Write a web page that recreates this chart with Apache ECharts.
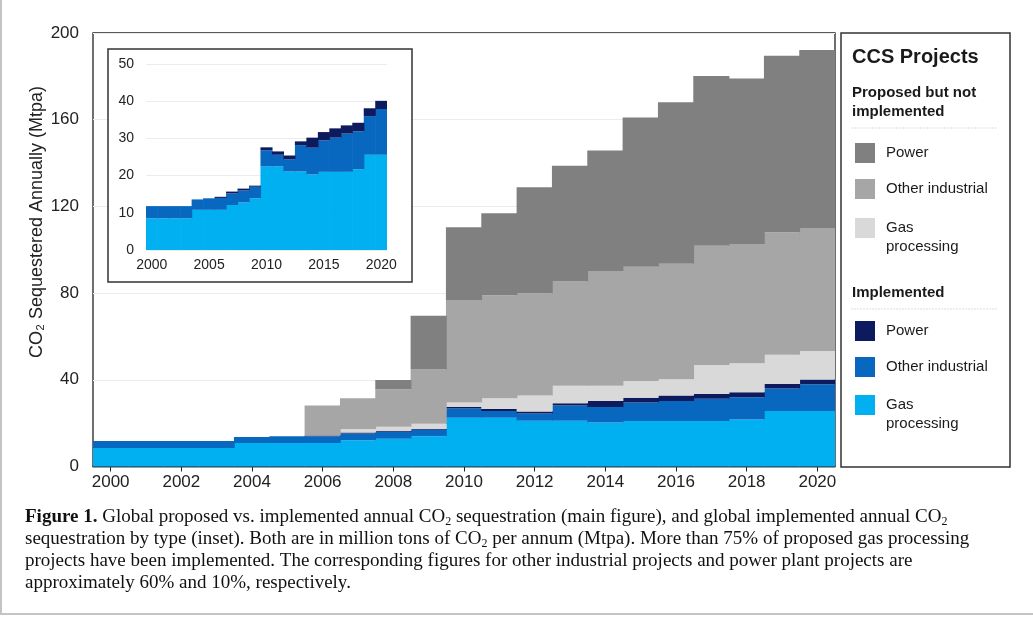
<!DOCTYPE html>
<html><head><meta charset="utf-8">
<script src="https://cdn.jsdelivr.net/npm/echarts@6/dist/echarts.min.js"></script>
<style>html,body{margin:0;padding:0;background:#fff;}#c{width:1033px;height:618px;}</style>
</head><body><div id="c"></div>
<script>
// ---- data (Mtpa, per year) ----
const years = ['2000','2001','2002','2003','2004','2005','2006','2007','2008','2009','2010',
               '2011','2012','2013','2014','2015','2016','2017','2018','2019','2020'];
const implGas   = [8.5,8.5,8.5,8.5,10.8,10.8,10.8,12.1,12.8,13.9,22.5,22.5,21.1,21.1,20.3,21.0,21.0,21.0,21.7,25.6,25.6];
const implOther = [3.3,3.3,3.3,3.3,2.8,3.1,3.2,3.1,3.2,3.1,4.3,3.1,3.3,7.1,7.2,8.5,9.2,10.3,10.2,10.4,12.3];
const implPower = [0,0,0,0,0,0,0.3,0.5,0.5,0.3,0.8,0.9,1.0,1.0,2.7,2.2,2.5,2.2,2.3,2.1,2.2];
const propGas   = [0,0,0,0,0,0,0,1.6,1.8,2.4,1.9,5.0,7.4,8.1,7.1,7.7,7.6,13.3,13.4,13.4,13.2];
const propOther = [0,0,0,0,0,0,13.9,14.2,17.3,25.1,47.3,47.5,47.1,48.0,52.9,52.8,53.2,55.1,55.1,56.6,56.7];
const propPower = [0,0,0,0,0,0,0,0,4.3,24.7,33.6,37.8,48.9,53.5,55.6,68.8,74.5,78.3,76.3,81.4,82.2];

const mainAxis  = {min: 0, max: 200, interval: 40};
const insetAxis = {min: 0, max: 50, interval: 10};

const C = {
  implGas: '#00B0F0', implOther: '#0868C0', implPower: '#0E1A5E',
  propGas: '#D9D9D9', propOther: '#A6A6A6', propPower: '#808080'
};

const sans = 'Liberation Sans, Arial, Helvetica, sans-serif';
const serif = 'Liberation Serif, Times New Roman, serif';

const mainGrid = {left: 93, top: 33, width: 742, height: 433.5};
const insetGrid = {left: 146, top: 64, width: 241, height: 186};

function bar(name, data, color, idx, z, w) {
  return {
    name: name, type: 'bar', stack: 'tot' + idx, data: data,
    xAxisIndex: idx, yAxisIndex: idx, z: z,
    barWidth: w, barGap: '-100%',
    itemStyle: {color: color, borderWidth: 0},
    emphasis: {disabled: true}, silent: true, animation: false
  };
}
const wMain = mainGrid.width / years.length + 0.8;
const wInset = insetGrid.width / years.length + 0.6;

const chart = echarts.init(document.getElementById('c'), null, {renderer: 'canvas'});

// legend built as graphic
const legendItems = [];
function swatch(y, color) {
  legendItems.push({type: 'rect', shape: {x: 855, y: y - 10, width: 20, height: 20},
    style: {fill: color}, z: 30});
}
function ltext(y, txt, bold, size) {
  legendItems.push({type: 'text', x: bold ? 852 : 886, y: y, z: 30,
    style: {text: txt, fill: '#1a1a1a', font: (bold ? 'bold ' : '') + size + 'px ' + sans,
      textVerticalAlign: 'middle', lineHeight: 19}});
}

ltext(57, 'CCS Projects', true, 20);
ltext(93, 'Proposed but not', true, 15);
ltext(112, 'implemented', true, 15);
legendItems.push({type: 'line', shape: {x1: 851, y1: 128, x2: 998, y2: 128},
  style: {stroke: '#dddddd', lineWidth: 1, lineDash: [2, 1]}, z: 30});
swatch(153, C.propPower); ltext(153, 'Power', false, 15);
swatch(189, C.propOther); ltext(189, 'Other industrial', false, 15);
swatch(228, C.propGas);   ltext(237, 'Gas\nprocessing', false, 15);
ltext(293, 'Implemented', true, 15);
legendItems.push({type: 'line', shape: {x1: 851, y1: 309, x2: 998, y2: 309},
  style: {stroke: '#dddddd', lineWidth: 1, lineDash: [2, 1]}, z: 30});
swatch(331, C.implPower); ltext(331, 'Power', false, 15);
swatch(367, C.implOther); ltext(367, 'Other industrial', false, 15);
swatch(405, C.implGas);   ltext(414, 'Gas\nprocessing', false, 15);

const capRich = {
  b: {font: 'bold 19px ' + serif, fill: '#111'},
  s: {fontSize: 12, fontFamily: serif, padding: [10, 0, 0, 0]}
};
function capLine(y, txt) {
  return {type: 'text', x: 25, y: y, z: 30,
    style: {text: txt, font: '19px ' + serif, fill: '#111', rich: capRich, textVerticalAlign: 'middle'}};
}

const option = {
  animation: false,
  grid: [
    Object.assign({show: true, borderColor: '#222', borderWidth: 1.3, backgroundColor: '#fff'}, mainGrid),
    Object.assign({z: 15}, insetGrid)
  ],
  xAxis: [
    {type: 'category', data: years, gridIndex: 0, boundaryGap: true,
     axisLine: {show: true, lineStyle: {color: '#222', width: 1.3}},
     axisTick: {show: true, interval: 1, alignWithLabel: true, length: 5, lineStyle: {color: '#222'}},
     axisLabel: {interval: 1, margin: 7, fontSize: 17, fontFamily: sans, color: '#222'},
     splitLine: {show: false}},
    {type: 'category', data: years, gridIndex: 1, boundaryGap: true, z: 15,
     axisLine: {show: false}, axisTick: {show: false},
     axisLabel: {interval: 4, margin: 8, fontSize: 14, fontFamily: sans, color: '#222'},
     splitLine: {show: false}}
  ],
  yAxis: [
    {type: 'value', gridIndex: 0, min: mainAxis.min, max: mainAxis.max, interval: mainAxis.interval,
     axisLine: {show: false}, axisTick: {show: false},
     axisLabel: {margin: 14, fontSize: 17, fontFamily: sans, color: '#222'},
     splitLine: {show: true, lineStyle: {color: '#ececec', width: 1}}},
    {type: 'value', gridIndex: 1, min: insetAxis.min, max: insetAxis.max, interval: insetAxis.interval, z: 15,
     axisLine: {show: false}, axisTick: {show: false},
     axisLabel: {margin: 12, fontSize: 14, fontFamily: sans, color: '#222'},
     splitLine: {show: true, lineStyle: {color: '#ececec', width: 1}}}
  ],
  series: [
    bar('Implemented Gas processing', implGas, C.implGas, 0, 2, wMain),
    bar('Implemented Other industrial', implOther, C.implOther, 0, 2, wMain),
    bar('Implemented Power', implPower, C.implPower, 0, 2, wMain),
    bar('Proposed Gas processing', propGas, C.propGas, 0, 2, wMain),
    bar('Proposed Other industrial', propOther, C.propOther, 0, 2, wMain),
    bar('Proposed Power', propPower, C.propPower, 0, 2, wMain),
    bar('Inset Gas processing', implGas, C.implGas, 1, 20, wInset),
    bar('Inset Other industrial', implOther, C.implOther, 1, 20, wInset),
    bar('Inset Power', implPower, C.implPower, 1, 20, wInset)
  ],
  graphic: [
    // figure panel border (left and bottom)
    {type: 'line', shape: {x1: 1, y1: 0, x2: 1, y2: 614}, style: {stroke: '#c4c4c4', lineWidth: 2}, z: 1},
    {type: 'line', shape: {x1: 0, y1: 614, x2: 1033, y2: 614}, style: {stroke: '#c4c4c4', lineWidth: 2}, z: 1},
    // inset box
    {type: 'rect', shape: {x: 108, y: 49, width: 304, height: 233},
     style: {fill: '#fff', stroke: '#333', lineWidth: 1.5}, z: 10},
    // legend box
    {type: 'rect', shape: {x: 841, y: 33, width: 169, height: 434},
     style: {fill: '#fff', stroke: '#333', lineWidth: 1.5}, z: 10},
    // y-axis title
    {type: 'text', x: 37, y: 222, rotation: Math.PI / 2, z: 30,
     style: {text: 'CO₂ Sequestered Annually (Mtpa)', font: '18px ' + sans, fill: '#222',
       textAlign: 'center', textVerticalAlign: 'middle'}},
    capLine(517, '{b|Figure 1.} Global proposed vs. implemented annual CO{s|2} sequestration (main figure), and global implemented annual CO{s|2}'),
    capLine(539, 'sequestration by type (inset). Both are in million tons of CO{s|2} per annum (Mtpa). More than 75% of proposed gas processing'),
    capLine(561, 'projects have been implemented. The corresponding figures for other industrial projects and power plant projects are'),
    capLine(583, 'approximately 60% and 10%, respectively.')
  ].concat(legendItems)
};
chart.setOption(option);
</script>
</body></html>
